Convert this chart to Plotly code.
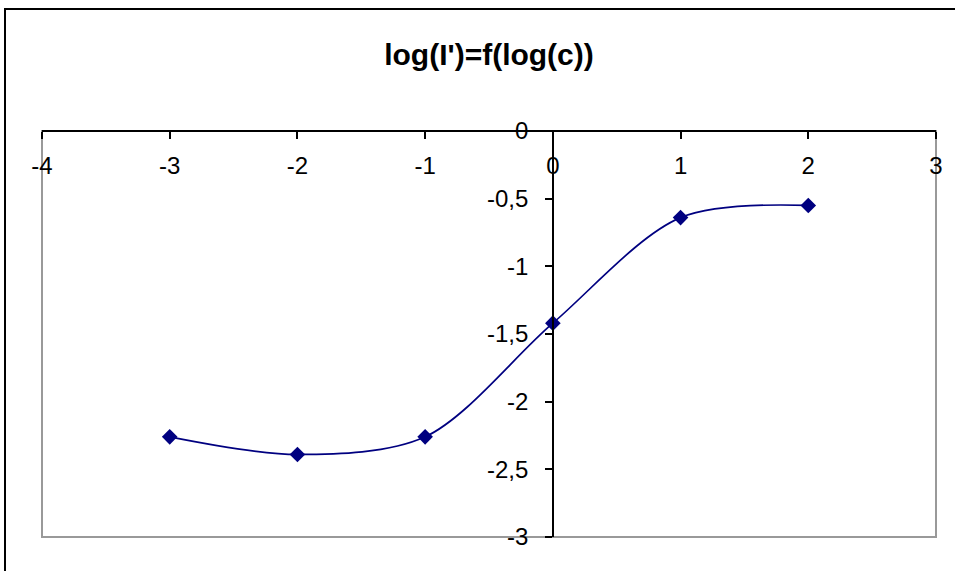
import plotly.graph_objects as go

x_vals = [-3, -2, -1, 0, 1, 2]
y_vals = [-2.26, -2.39, -2.26, -1.42, -0.64, -0.55]

x_ticks = [-4, -3, -2, -1, 0, 1, 2, 3]
x_ticktext = ["-4", "-3", "-2", "-1", "0", "1", "2", "3"]
y_ticks = [0, -0.5, -1, -1.5, -2, -2.5, -3]
y_ticktext = ["0", "-0,5", "-1", "-1,5", "-2", "-2,5", "-3"]

title_text = "log(I')=f(log(c))"
navy = "#000080"
font_family = "Liberation Sans, Arial, sans-serif"

fig = go.Figure()
fig.add_trace(go.Scatter(
    x=x_vals, y=y_vals, mode="lines+markers",
    line=dict(color=navy, width=1.7, shape="spline", smoothing=0.9),
    marker=dict(symbol="diamond", size=12, color=navy),
    showlegend=False, cliponaxis=False,
))

W, H = 955, 571
L, R, T, B = 42, 19, 131, 34

fig.update_layout(
    width=W, height=H,
    margin=dict(l=L, r=R, t=T, b=B),
    paper_bgcolor="white", plot_bgcolor="white",
    font=dict(family=font_family, color="black", size=24),
    title=dict(text="<b>" + title_text + "</b>", x=(L + (W - R)) / 2 / W, xanchor="center",
               y=1 - 54 / H, yanchor="middle",
               font=dict(size=30, family=font_family, color="black")),
    xaxis=dict(range=[-4, 3], tickvals=x_ticks, ticktext=x_ticktext,
               showgrid=False, zeroline=False, showline=True, linecolor="black", linewidth=1.5,
               anchor="free", position=1, side="bottom",
               ticks="outside", ticklen=7, tickcolor="black", tickwidth=1.5,
               ticklabelstandoff=6,
               tickfont=dict(size=24, family=font_family, color="black")),
    yaxis=dict(range=[-3, 0], tickvals=y_ticks, ticktext=y_ticktext,
               showgrid=False, zeroline=False, showline=True, linecolor="black", linewidth=1.5,
               anchor="free", position=4 / 7, side="left",
               ticks="outside", ticklen=7, tickcolor="black", tickwidth=1.5,
               ticklabelstandoff=12,
               tickfont=dict(size=24, family=font_family, color="black")),
)

pw = W - L - R
ph = H - T - B
# plot-area border (gray)
fig.add_shape(type="rect", xref="paper", yref="paper", x0=0, x1=1, y0=0, y1=1,
              line=dict(color="#999999", width=2), layer="below")
# outer chart border (black, left and top visible)
fig.add_shape(type="rect", xref="paper", yref="paper",
              x0=(5 - L) / pw, x1=(W + 60 - L) / pw,
              y0=-(B + 60) / ph, y1=(H - B - 9) / ph,
              line=dict(color="black", width=2), layer="below")

fig.write_html("out.html")
